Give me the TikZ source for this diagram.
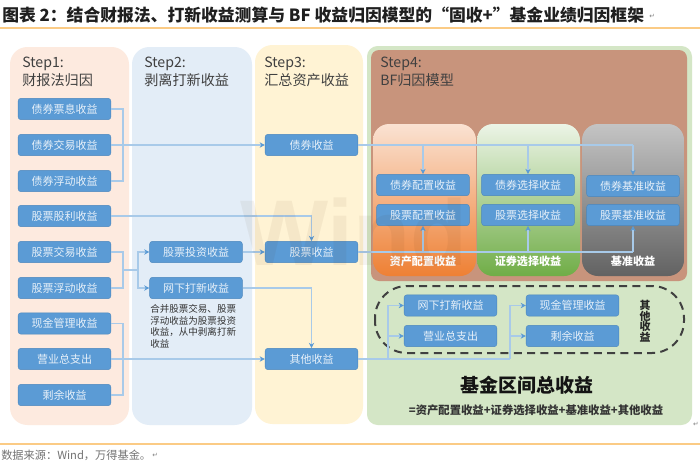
\documentclass[tikz,border=0pt]{standalone}
\usepackage{fontspec}
\setmainfont{Noto Sans CJK SC}
\newfontfamily\wmfont{Liberation Sans}
\newfontfamily\djfont{DejaVu Sans}
\usetikzlibrary{arrows.meta}
\definecolor{pA}{HTML}{FDEADF}
\definecolor{pB}{HTML}{E3EDF7}
\definecolor{pC}{HTML}{FFF3D4}
\definecolor{pD}{HTML}{D4E6C6}
\definecolor{pE}{HTML}{C8947C}
\definecolor{bx}{HTML}{5B9BD5}
\definecolor{bxl}{HTML}{4A86BD}
\definecolor{ln}{HTML}{A8CAE9}
\definecolor{tip}{HTML}{5B9BD5}
\definecolor{rul}{HTML}{FBCB85}
\definecolor{dk}{HTML}{404040}
\tikzset{
  x=0.75pt,y=-0.75pt,
  panel/.style={draw=none,rounded corners=13pt},
  rbox/.style={draw=bxl,line width=.3pt,fill=bx,rounded corners=2pt,minimum width=69.5pt,minimum height=16pt,inner sep=0pt,text=white!85!bx,font=\fontsize{8.25}{10}\selectfont},
  steptxt/.style={anchor=north west,align=left,inner sep=0pt,text=dk,font=\fontsize{10.6}{13.5}\selectfont},
  lab/.style={text=white,inner sep=0pt,font=\fontsize{8.3}{10}\bfseries\selectfont},
  cn/.style={draw=ln,line width=.8pt},
  ar/.style={cn,-{Stealth[length=4pt,width=4pt,color=tip]}}
}
\begin{document}
\begin{tikzpicture}
\useasboundingbox (0,0) rectangle (700,464);
\fill[white] (0,0) rectangle (700,464);
% title and rules
\node[anchor=west,inner sep=0pt,text=black!88] (ttl) at (2,15) {\fontsize{12.6}{15}\bfseries\selectfont 图表 2：结合财报法、打新收益测算与 BF 收益归因模型的“固收+”基金业绩归因框架};
\node[anchor=west,inner sep=0pt,text=gray] (m1) at (649,16) {\djfont\fontsize{5}{6}\selectfont ↵};
\draw[rul,line width=.8pt] (0,28) -- (700,28);
\draw[rul,line width=.8pt] (0,444) -- (700,444);
\node[anchor=west,inner sep=0pt,text=black!55] (src) at (1,455) {\fontsize{8.4}{10}\selectfont 数据来源：Wind，万得基金。};
\node[anchor=west,inner sep=0pt,text=gray] (m2) at (152,455) {\djfont\fontsize{5}{6}\selectfont ↵};
\node[anchor=center,inner sep=0pt,text=gray] (m3) at (696,424) {\djfont\fontsize{5}{6}\selectfont ↵};
% panels
\fill[pA,panel] (10,47) rectangle (129,425);
\fill[pB,panel] (132,47) rectangle (252,425);
\fill[pC,panel] (255,45) rectangle (363,424);
\fill[pD,rounded corners=8pt] (367,46) rectangle (692,425);
\fill[pE,rounded corners=6pt] (371,50) rectangle (687,281);
\shade[rounded corners=12pt,top color={rgb,255:red,250;green,226;blue,210},bottom color={rgb,255:red,238;green,128;blue,52}] (373,124) rectangle (476,276);
\shade[rounded corners=12pt,top color={rgb,255:red,236;green,244;blue,230},bottom color={rgb,255:red,112;green,173;blue,71}] (477,124) rectangle (580,276);
\shade[rounded corners=12pt,top color={rgb,255:red,196;green,196;blue,196},bottom color={rgb,255:red,98;green,98;blue,98}] (582,124) rectangle (684,276);
% step titles
\node[steptxt] (t1) at (22,57) {Step1:\\财报法归因};
\node[steptxt] (t2) at (144,57) {Step2:\\剥离打新收益};
\node[steptxt] (t3) at (264,57) {Step3:\\汇总资产收益};
\node[steptxt] (t4) at (380,57) {Step4:\\BF归因模型};
% step 1 boxes
\node[rbox] (a1) at (64.5,109) {债券票息收益};
\node[rbox] (a2) at (64.5,145) {债券交易收益};
\node[rbox] (a3) at (64.5,181) {债券浮动收益};
\node[rbox] (a4) at (64.5,216) {股票股利收益};
\node[rbox] (a5) at (64.5,252) {股票交易收益};
\node[rbox] (a6) at (64.5,288) {股票浮动收益};
\node[rbox] (a7) at (64.5,323.5) {现金管理收益};
\node[rbox] (a8) at (64.5,359) {营业总支出};
\node[rbox] (a9) at (64.5,395) {剩余收益};
% step 2 boxes
\node[rbox] (b1) at (196,252) {股票投资收益};
\node[rbox] (b2) at (196,288) {网下打新收益};
\node[anchor=north west,align=left,inner sep=0pt,text=black!80,font=\fontsize{7.15}{8.8}\selectfont] (note) at (150,304) {合并股票交易、股票\\浮动收益为股票投资\\收益，从中剥离打新\\收益};
% step 3 boxes
\node[rbox] (c1) at (311.5,145) {债券收益};
\node[rbox] (c2) at (311.5,252) {股票收益};
\node[rbox] (c3) at (311.5,359) {其他收益};
% step 4 boxes
\node[rbox] (d1) at (423,185) {债券配置收益};
\node[rbox] (d2) at (423,215) {股票配置收益};
\node[rbox] (e1) at (528,185) {债券选择收益};
\node[rbox] (e2) at (528,215) {股票选择收益};
\node[rbox] (f1) at (633,186) {债券基准收益};
\node[rbox] (f2) at (633,215) {股票基准收益};
\node[lab] (l1) at (423,261) {资产配置收益};
\node[lab] (l2) at (528,261) {证券选择收益};
\node[lab] (l3) at (633,261) {基准收益};
% other returns
\draw[dk,line width=1.5pt,dash pattern=on 6pt off 4pt,rounded corners=24pt] (375,286) rectangle (684,353);
\node[rbox] (g1) at (450.5,305.5) {网下打新收益};
\node[rbox] (g2) at (450.5,336) {营业总支出};
\node[rbox] (h1) at (572.5,305.5) {现金管理收益};
\node[rbox] (h2) at (572.5,336) {剩余收益};
\node[inner sep=0pt,align=center,text=black!85,font=\fontsize{8.2}{7.9}\bfseries\selectfont] (qt) at (645,321) {其\\他\\收\\益};
\node[inner sep=0pt,text=black!92] (tot) at (527,385) {\fontsize{14.2}{17}\bfseries\selectfont 基金区间总收益};
\node[inner sep=0pt,text=black!80] (frm) at (536,410) {\fontsize{8.5}{10}\bfseries\selectfont =资产配置收益+证券选择收益+基准收益+其他收益};
% connector junctions
\coordinate (j1) at (123,145);
\coordinate (j2) at (123,270);
\coordinate (j3) at (138,270);
\coordinate (j4) at (123,359);
\coordinate (j5) at (388,359);
\coordinate (j6) at (510,359);
\coordinate (j7) at (388,336);
\coordinate (j8) at (510,336);
\coordinate (k1) at (423,145);
\coordinate (k2) at (528,145);
\coordinate (k3) at (633,145);
\coordinate (n1) at (423,252);
\coordinate (n2) at (528,252);
\coordinate (n3) at (633,252);
% connectors
\draw[cn] (a1.east) -| (a3.east -| j1) -- (a3.east);
\draw[ar] (a2.east) -- (c1.west);
\draw[ar] (a4.east) -| (c2.north);
\draw[cn] (a5.east) -| (a6.east -| j2) -- (a6.east);
\draw[cn] (j2) -- (j3);
\draw[ar] (j3) |- (b1.west);
\draw[ar] (j3) |- (b2.west);
\draw[ar] (b1.east) -- (c2.west);
\draw[ar] (b2.east) -| (c3.north);
\draw[cn] (a7.east) -| (a9.east -| j4) -- (a9.east);
\draw[ar] (a8.east) -- (c3.west);
\draw[cn] (c1.east) -- (k3);
\draw[ar] (k1) -- (d1.north);
\draw[ar] (k2) -- (e1.north);
\draw[ar] (k3) -- (f1.north);
\draw[cn] (c2.east) -- (n3);
\draw[ar] (n1) -- (d2.south);
\draw[ar] (n2) -- (e2.south);
\draw[ar] (n3) -- (f2.south);
\draw[cn] (c3.east) -- (j6);
\draw[ar] (j5) |- (g1.west);
\draw[ar] (j7) -- (g2.west);
\draw[ar] (j6) |- (h1.west);
\draw[ar] (j8) -- (h2.west);
% watermark
\node[inner sep=0pt,opacity=.055,text=black!70!orange] (wm) at (354,232) {\wmfont\fontsize{70}{72}\bfseries\selectfont Wind};
\end{tikzpicture}
\end{document}
